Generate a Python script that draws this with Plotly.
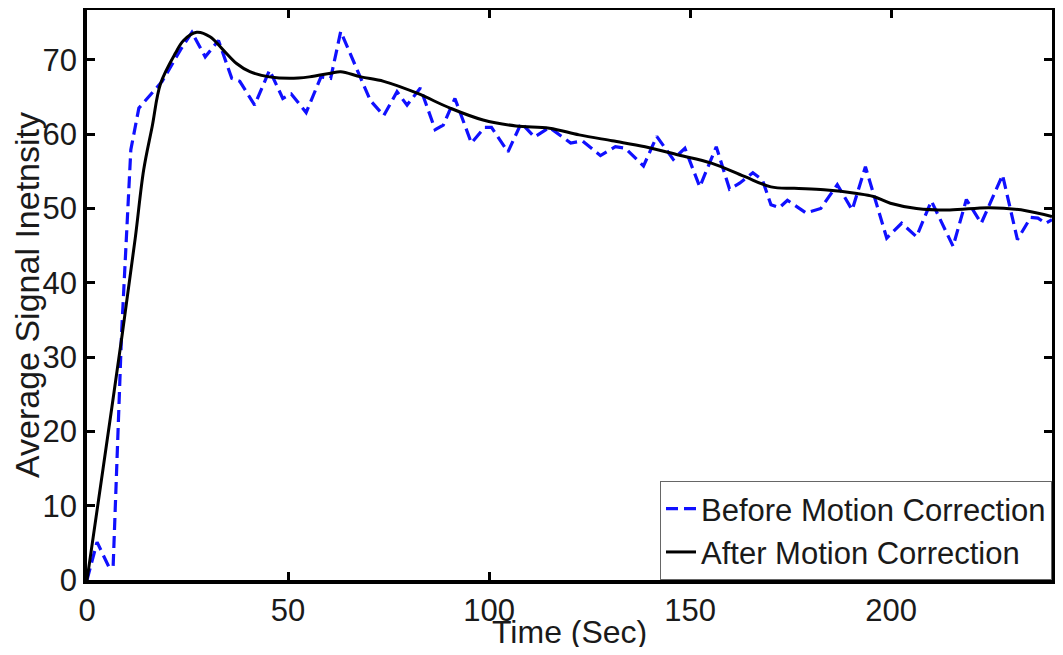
import plotly.graph_objects as go

before_t = [0, 2.5, 5.5, 6.5, 8.6, 10.9, 12.9, 18.7, 23.2, 26.1, 29.4, 32.7, 36.0, 38.0, 41.7, 45.4,
            48.7, 50.8, 54.5, 58.2, 60.6, 63.1, 68.1, 70.5, 73.8, 77.1, 79.6, 82.9, 86.6, 88.6, 91.5,
            95.6, 98.9, 100.6, 104.7, 108.0, 111.3, 115.0, 120.3, 123.2, 127.7, 131.4, 133.9, 138.4,
            141.7, 145.8, 148.7, 152.4, 156.5, 159.8, 162.3, 165.6, 168.0, 170.1, 172.2, 174.2, 178.8,
            182.5, 186.6, 190.3, 193.6, 198.9, 202.6, 206.3, 210.0, 215.4, 218.7, 222.4, 227.7, 231.4,
            234.7, 236.5, 238.4, 240.0]
before_v = [0, 5.1, 1.7, 1.8, 33.2, 57.9, 63.5, 67.1, 71.3, 73.7, 70.4, 72.6, 67.5, 67.1, 63.9, 68.6,
            64.8, 65.4, 62.9, 67.7, 67.5, 73.8, 67.5, 64.5, 62.5, 65.7, 63.9, 66.2, 60.6, 61.2, 64.8,
            58.8, 60.9, 60.9, 57.6, 61.5, 59.6, 60.9, 58.8, 59.1, 57.1, 58.3, 58.1, 55.7,
            59.7, 56.6, 58.1, 52.9, 58.3, 52.6, 53.4, 54.8, 53.8, 50.5, 50.1, 51.1, 49.4,
            50.0, 53.2, 49.8, 55.6, 46.0, 48.0, 46.2, 51.0, 44.9, 51.2, 48.0, 54.5, 45.8,
            48.8, 48.7, 48.0, 48.5]

after_t = [0, 4.0, 8.8, 12.0, 14.1, 16.2, 18.3, 22.0, 24.0, 27.3, 30.6, 33.9, 37.2, 40.5, 45.4, 50.4,
           55.3, 60.6, 63.1, 68.1, 73.8, 82.1, 90.3, 98.5, 106.7, 115.0, 122.4, 130.6, 138.8, 147.1,
           155.3, 163.5, 170.1, 175.9, 183.3, 191.5, 195.6, 199.8, 206.3, 214.6, 224.4, 233.5, 240.0]
after_v = [0, 15.0, 33.2, 46.0, 55.2, 61.0, 66.8, 70.9, 72.6, 73.7, 73.1, 71.3, 69.5, 68.4, 67.7, 67.5,
           67.7, 68.2, 68.4, 67.7, 67.1, 65.5, 63.5, 61.9, 61.1, 60.8, 59.9, 59.1, 58.3, 57.2,
           56.1, 54.3, 52.9, 52.7, 52.5, 52.0, 51.6, 50.7, 50.0, 49.8, 50.1, 49.7, 48.9]

x_ticks = [0, 50, 100, 150, 200]
y_ticks = [0, 10, 20, 30, 40, 50, 60, 70]
x_title = "Time (Sec)"
y_title = "Average Signal Inetnsity"

FONT = "Liberation Sans, Arial, sans-serif"
TXT = "#1a1a1a"

fig = go.Figure()
fig.add_trace(go.Scatter(x=before_t, y=before_v, mode="lines", name="Before Motion Correction",
                         line=dict(color="#1010ff", width=3.2, dash="12px,6px")))
fig.add_trace(go.Scatter(x=after_t, y=after_v, mode="lines", name="After Motion Correction",
                         line=dict(color="black", width=3), line_shape="spline"))

axis_common = dict(showgrid=False, zeroline=False, showline=True, linecolor="black", linewidth=3.5,
                   mirror="ticks", ticks="inside", ticklen=8, tickwidth=3, tickcolor="black",
                   automargin=False, tickfont=dict(family=FONT, size=31, color=TXT))
fig.update_xaxes(range=[0, 240], tickvals=x_ticks, **axis_common)
fig.update_yaxes(range=[0, 76.7], tickvals=y_ticks,
                 title=dict(text=y_title, font=dict(family=FONT, size=34, color=TXT), standoff=4),
                 **axis_common)

# x-axis title as a paper annotation so it sits just under the tick labels
fig.add_annotation(text=x_title, xref="paper", yref="paper", x=0.5, y=0,
                   xanchor="center", yanchor="top", yshift=-32, showarrow=False,
                   font=dict(family=FONT, size=32, color=TXT))

# page body has an 8px default margin; the figure is sized so the page does not overflow
fig.update_layout(
    width=1047, height=639,
    margin=dict(l=79, r=3, t=2, b=67),
    plot_bgcolor="white", paper_bgcolor="white",
    legend=dict(x=1, y=0, xanchor="right", yanchor="bottom", bgcolor="white",
                bordercolor="#666", borderwidth=1, itemwidth=30,
                font=dict(family=FONT, size=31, color=TXT), tracegroupgap=0),
    showlegend=True,
)

fig.write_html("out.html")
